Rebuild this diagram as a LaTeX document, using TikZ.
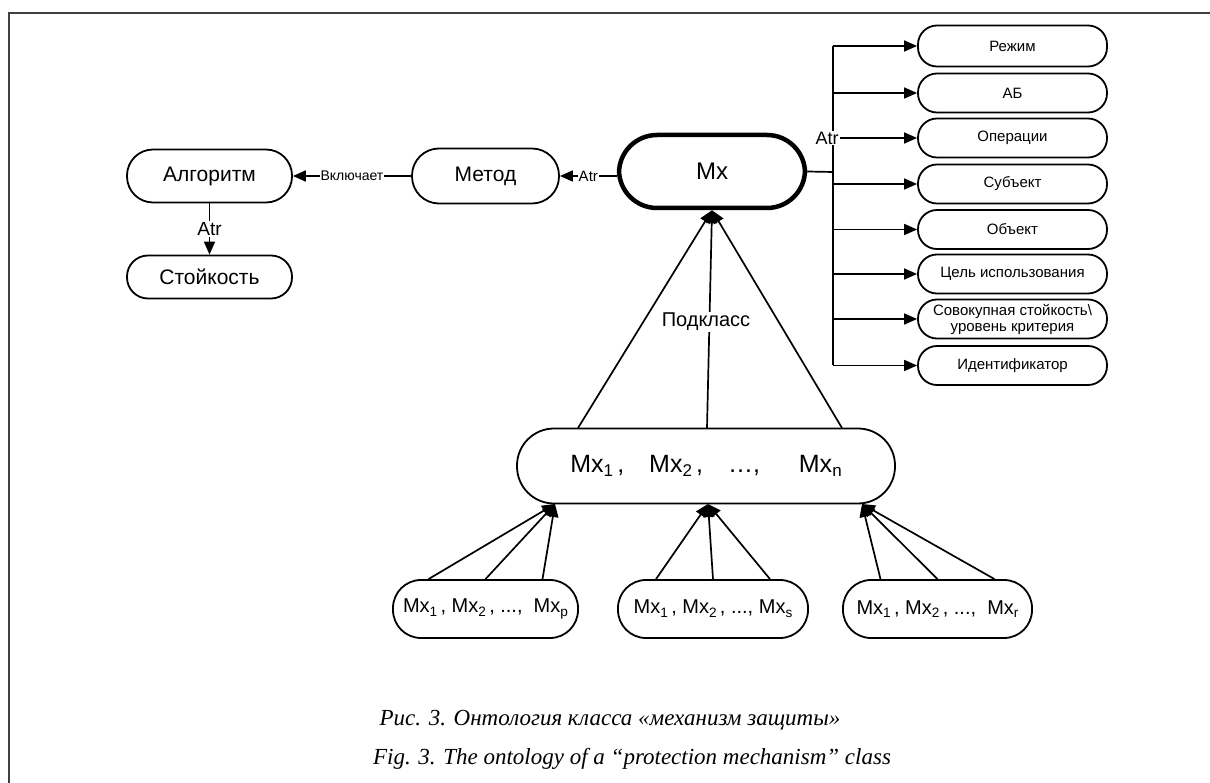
\documentclass[tikz,border=0pt]{standalone}
\usepackage{fontspec}
\setmainfont{Liberation Sans}
\newfontfamily\capfont{Liberation Serif}
\usetikzlibrary{arrows.meta,calc}

% font size in pt (baseline skip equal to the size)
\newcommand\fs[1]{\fontsize{#1}{#1}\selectfont}
% lowered, reduced index that follows the current font size
\newcommand\sbx[1]{\raisebox{-0.35ex}{\scalebox{0.68}{#1}}}

\tikzset{
  ln/.style={line width=1.7pt},
  arr/.style={ln, -{Triangle[length=13pt,width=11pt]}},
  pill/.style={draw, line width=1.8pt, rectangle, rounded corners=#1,
               inner sep=0pt, align=center},
  lbl/.style={fill=white, inner sep=1pt},
  attr/.style={pill=19, minimum width=189, minimum height=39, font=\fs{15}},
  leaf/.style={pill=28, minimum height=58, font=\fs{20}},
  caption/.style={font=\capfont\itshape\fs{23}},
}

\begin{document}
\begin{tikzpicture}[x=1pt,y=-1pt]
\useasboundingbox (0,0) rectangle (1210,783);

% frame
\draw[line width=2pt, black!75] (8,13) -- (1210,13);
\draw[line width=2pt, black!75] (9,13) -- (9,783);

% main class and its method chain
\node[pill=38, line width=4.5pt, minimum width=186, minimum height=73, font=\fs{24}]
  (mx) at (712,171.5) {Mx};
\node[pill=27, minimum width=147, minimum height=55, font=\fs{21}]
  (metod) at (485.5,176) {Метод};
\node[pill=26, minimum width=165, minimum height=53, font=\fs{21}]
  (alg) at (209.5,176) {Алгоритм};
\node[pill=21, minimum width=165, minimum height=43, font=\fs{21}]
  (stk) at (209.5,277) {Стойкость};

\draw[arr] (mx.west |- metod.east) -- node[lbl, font=\fs{15}] (a1) {Atr} (metod.east);
\draw[arr] (metod.west) -- node[lbl, font=\fs{14}] (incl) {Включает} (alg.east);
\draw[arr] (alg.south) -- node[lbl, font=\fs{19}] (a2) {Atr} (stk.north);

% attribute column
\node[attr, minimum height=41] (r1) at (1012.5,46) {Режим};
\node[attr] (r2) at (1012.5,93) {АБ};
\node[attr] (r3) at (1012.5,138) {Операции};
\node[attr] (r4) at (1012.5,184) {Субъект};
\node[attr] (r5) at (1012.5,229.5) {Объект};
\node[attr] (r6) at (1012.5,274) {Цель использования};
\node[attr] (r7) at (1012.5,319) {Совокупная стойкость\textbackslash\\[1pt]уровень критерия};
\node[attr] (r8) at (1012.5,365.5) {Идентификатор};

\coordinate (tj) at (833,172);
\foreach \i/\y in {1/46,2/93,3/138,4/184,5/229.5,6/274,7/319,8/365.5}
  \coordinate (t\i) at (833,\y);
\draw[ln] (mx.east) -- (tj);
\draw[ln] (t1) -- (t8);
\foreach \i in {1,...,8}
  \draw[arr] (t\i) -- (r\i.west);
\node[lbl, font=\fs{18}] (a3) at (827,138) {Atr};

% subclasses
\node[pill=37, minimum width=378, minimum height=75, font=\fs{25}]
  (mxn) at (706,466) {Mx\sbx{1}\,,\quad Mx\sbx{2}\,,\quad\ldots,\quad\ \ Mx\sbx{n}};

\coordinate (s1) at (578,428);
\coordinate (s2) at (707,428);
\coordinate (s3) at (842,428);
\foreach \i in {1,2,3}
  \draw[arr] (s\i) -- (mx.south);
\node[lbl, font=\fs{20}] (sub) at (706,322) {Подкласс};

% leaf groups
\node[leaf, minimum width=185] (g1) at (485.5,609) {Mx\sbx{1}\,, Mx\sbx{2}\,, ...,\ \ Mx\sbx{p}};
\node[leaf, minimum width=190] (g2) at (713,609) {Mx\sbx{1}\,, Mx\sbx{2}\,, ..., Mx\sbx{s}};
\node[leaf, minimum width=189] (g3) at (937.5,609) {Mx\sbx{1}\,, Mx\sbx{2}\,, ...,\ \ Mx\sbx{r}};

\coordinate (b1) at (555,504);
\coordinate (b2) at (708,504);
\coordinate (b3) at (862,504);
\foreach \g/\b in {g1/b1,g2/b2,g3/b3}
  \foreach \dx in {-57,0,57}
    \draw[arr] ($(\g.north)+(\dx,0)$) -- (\b);

% caption
\node[caption] (cap1) at (610,720)
  {Рис. 3. Онтология класса «механизм защиты»};
\node[caption] (cap2) at (632,759)
  {Fig. 3. The ontology of a “protection mechanism” class};
\end{tikzpicture}
\end{document}
